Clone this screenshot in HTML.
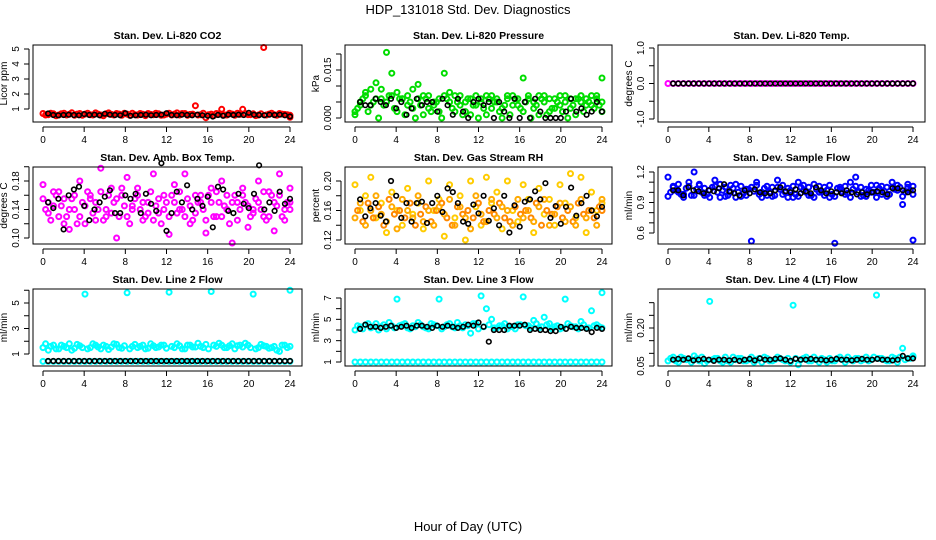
<!DOCTYPE html>
<html><head><meta charset="utf-8"><style>
html,body{margin:0;padding:0;background:#fff;}
svg{display:block;font-family:"Liberation Sans",Arial,sans-serif;}
</style></head><body>
<svg id="chart" width="936" height="540" viewBox="0 0 936 540" xmlns="http://www.w3.org/2000/svg">
<rect x="0" y="0" width="936" height="540" fill="#fff"/>
<text x="468" y="14" font-size="13" text-anchor="middle">HDP_131018  Std. Dev. Diagnostics</text>
<text x="468" y="531" font-size="13" text-anchor="middle">Hour of Day (UTC)</text>
</svg>
<script>
const hourTicks = [0,4,8,12,16,20,24];

const co2A = [0.7,0.62,0.68,0.6,0.72,0.65,0.58,0.7,0.66,0.62,0.74,0.6,0.68,0.64,0.7,0.58,0.66,0.72,0.6,0.65,0.7,0.62,0.68,0.6,0.72,0.66,0.6,0.7,0.64,1.22,0.62,0.42,0.66,0.7,0.98,0.6,0.66,0.72,0.98,0.62,0.68,0.6,5.1,0.66,0.62,0.7,0.64,0.45];
const co2B = [0.6,0.72,0.55,0.68,0.6,0.75,0.66,0.58,0.72,0.6,0.66,0.55,0.74,0.6,0.66,0.72,0.58,0.62,0.7,0.56,0.64,0.72,0.58,0.66,0.6,0.74,0.7,0.58,0.66,0.6,0.72,0.62,0.56,0.66,0.6,0.72,0.58,0.64,0.7,0.62,0.56,0.68,0.6,0.72,0.58,0.66,0.62,0.58];
const co2K = [0.7,0.6,0.58,0.6,0.62,0.6,0.58,0.66,0.6,0.62,0.58,0.68,0.62,0.6,0.58,0.72,0.55,0.58,0.6,0.62,0.58,0.6,0.62,0.72,0.6,0.58,0.62,0.6,0.58,0.62,0.58,0.55,0.5,0.6,0.55,0.62,0.6,0.62,0.6,0.75,0.62,0.6,0.58,0.62,0.6,0.62,0.58,0.5];

const presA = [0.001,0.004,0.007,0.009,0.011,0.006,0.0205,0.014,0.008,0.006,0.004,0.009,0.0105,0.007,0.003,0.005,0.006,0.014,0.008,0.002,0.007,0.005,0.001,0.004,0.006,0.007,0.003,0.005,0.0,0.006,0.007,0.004,0.0125,0.006,0.003,0.007,0.005,0.002,0.006,0.004,0.007,0.003,0.006,0.005,0.004,0.007,0.006,0.0125];
const presB = [0.003,0.006,0.002,0.005,0.0,0.004,0.007,0.003,0.006,0.001,0.005,0.0,0.004,0.006,0.002,0.005,0.0,0.006,0.003,0.005,0.001,0.006,0.004,0.0,0.003,0.006,0.005,0.002,0.004,0.001,0.006,0.003,0.005,0.0,0.004,0.006,0.001,0.003,0.005,0.002,0.0,0.004,0.006,0.002,0.005,0.003,0.004,0.002];
const presC = [0.002,0.005,0.008,0.004,0.006,0.009,0.005,0.007,0.002,0.006,0.007,0.003,0.006,0.001,0.007,0.004,0.002,0.007,0.005,0.007,0.004,0.002,0.006,0.007,0.005,0.001,0.007,0.006,0.003,0.007,0.004,0.006,0.002,0.007,0.005,0.001,0.007,0.006,0.003,0.007,0.005,0.006,0.001,0.007,0.006,0.004,0.007,0.005];
const presK = [0.005,0.004,0.004,0.006,0.005,0.004,0.006,0.003,0.005,0.001,0.003,0.006,0.004,0.005,0.005,0.002,0.006,0.004,0.001,0.006,0.002,0.0,0.005,0.006,0.004,0.005,0.0,0.005,0.002,0.0,0.006,0.0,0.005,0.0,0.006,0.002,0.0,0.0,0.0,0.0,0.002,0.006,0.002,0.003,0.001,0.002,0.005,0.002];

const tempA = [0,0,0,0,0,0,0,0,0,0,0,0,0,0,0,0,0,0,0,0,0,0,0,0,0,0,0,0,0,0,0,0,0,0,0,0,0,0,0,0,0,0,0,0,0,0,0,0];
const tempK = [0,0,0,0,0,0,0,0,0,0,0,0,0,0,0,0,0,0,0,0,0,0,0,0,0,0,0,0,0,0,0,0,0,0,0,0,0,0,0,0,0,0,0,0,0,0,0,0];

const ambA = [0.175,0.15,0.165,0.13,0.155,0.112,0.14,0.18,0.12,0.16,0.15,0.198,0.13,0.17,0.1,0.16,0.185,0.14,0.17,0.125,0.15,0.19,0.135,0.16,0.105,0.175,0.14,0.19,0.12,0.16,0.15,0.107,0.17,0.13,0.18,0.16,0.093,0.15,0.17,0.115,0.14,0.18,0.13,0.165,0.11,0.19,0.14,0.17];
const ambB = [0.14,0.125,0.16,0.145,0.13,0.155,0.12,0.15,0.165,0.135,0.14,0.125,0.16,0.15,0.13,0.145,0.12,0.155,0.14,0.13,0.165,0.145,0.12,0.15,0.16,0.135,0.14,0.155,0.125,0.15,0.14,0.16,0.13,0.15,0.145,0.12,0.16,0.14,0.15,0.13,0.155,0.14,0.125,0.16,0.145,0.13,0.15,0.14];
const ambC = [0.155,0.135,0.145,0.165,0.12,0.14,0.16,0.13,0.145,0.155,0.125,0.165,0.14,0.135,0.155,0.17,0.13,0.145,0.16,0.15,0.135,0.125,0.155,0.14,0.13,0.15,0.165,0.13,0.145,0.135,0.16,0.125,0.15,0.165,0.13,0.14,0.15,0.125,0.16,0.145,0.135,0.15,0.165,0.13,0.15,0.16,0.125,0.15];
const ambK = [0.15,0.142,0.155,0.112,0.16,0.168,0.172,0.145,0.125,0.14,0.15,0.158,0.167,0.135,0.135,0.16,0.155,0.162,0.135,0.162,0.148,0.138,0.205,0.11,0.135,0.165,0.15,0.174,0.14,0.155,0.145,0.158,0.115,0.172,0.168,0.138,0.135,0.162,0.148,0.142,0.162,0.202,0.14,0.15,0.138,0.165,0.148,0.155];

const rhA = [0.195,0.16,0.18,0.205,0.15,0.17,0.13,0.185,0.16,0.14,0.19,0.155,0.17,0.135,0.2,0.16,0.175,0.125,0.195,0.15,0.18,0.12,0.2,0.165,0.14,0.205,0.17,0.185,0.135,0.2,0.16,0.145,0.195,0.175,0.13,0.19,0.155,0.175,0.14,0.195,0.17,0.21,0.15,0.205,0.13,0.185,0.16,0.17];
const rhB = [0.16,0.145,0.17,0.15,0.165,0.14,0.175,0.155,0.16,0.15,0.17,0.14,0.155,0.165,0.145,0.16,0.17,0.15,0.14,0.165,0.155,0.16,0.15,0.17,0.145,0.16,0.155,0.17,0.15,0.145,0.165,0.155,0.16,0.15,0.17,0.14,0.16,0.155,0.165,0.15,0.16,0.145,0.17,0.155,0.16,0.15,0.165,0.16];
const rhC = [0.15,0.17,0.14,0.16,0.18,0.155,0.145,0.165,0.135,0.175,0.16,0.15,0.18,0.145,0.16,0.14,0.165,0.155,0.175,0.14,0.165,0.15,0.135,0.18,0.155,0.145,0.175,0.15,0.165,0.16,0.14,0.175,0.15,0.16,0.145,0.165,0.175,0.14,0.155,0.17,0.145,0.165,0.14,0.175,0.15,0.16,0.14,0.175];
const rhK = [0.175,0.152,0.163,0.17,0.153,0.145,0.2,0.18,0.15,0.17,0.145,0.17,0.172,0.143,0.17,0.18,0.158,0.19,0.185,0.17,0.145,0.142,0.168,0.156,0.18,0.146,0.163,0.14,0.18,0.13,0.167,0.138,0.172,0.175,0.186,0.175,0.197,0.15,0.166,0.142,0.165,0.191,0.153,0.17,0.18,0.16,0.152,0.165];

const flowA = [1.15,1.05,1.0,0.98,1.1,1.2,1.08,0.97,1.02,1.12,0.95,1.05,1.0,1.08,0.96,1.03,0.52,1.1,1.0,0.97,1.05,1.12,0.98,1.04,0.95,1.1,1.02,0.97,1.08,1.0,1.05,0.95,0.5,1.03,0.98,1.1,1.15,0.96,1.03,1.0,1.07,0.98,1.05,1.1,1.02,0.88,1.08,0.53];
const flowB = [1.0,1.02,0.98,1.04,0.97,1.03,1.0,0.98,1.05,1.0,1.02,0.97,1.04,1.0,0.99,1.03,1.01,0.98,1.04,1.0,0.97,1.03,1.0,1.02,0.98,1.05,1.0,0.97,1.03,1.0,1.02,0.98,1.04,1.0,0.99,1.03,1.0,0.97,1.02,1.0,1.04,1.01,0.98,1.03,1.05,1.0,1.02,0.98];
const flowC = [0.96,1.06,1.08,0.95,1.06,0.97,1.07,1.04,0.95,1.06,1.08,0.96,1.07,0.95,1.06,0.97,1.05,1.07,0.95,1.06,0.96,1.05,1.07,0.95,1.06,0.96,1.07,1.05,0.95,1.06,0.97,1.07,0.96,1.05,1.06,0.95,1.06,1.05,0.96,1.07,0.95,1.06,0.96,1.05,1.07,0.96,1.05,1.06];
const flowK = [1.02,1.02,0.97,1.05,1.02,1.01,0.99,1.02,1.01,1.04,1.08,1.01,0.99,0.97,1.02,0.99,1.03,1.0,0.99,0.99,1.02,1.05,1.01,1.0,1.03,0.99,1.01,0.99,1.05,1.02,0.99,1.01,1.0,0.99,1.02,1.0,0.98,1.0,0.98,1.0,1.01,1.0,0.98,1.04,1.04,1.02,1.0,1.02];

const l2A = [1.5,1.3,1.7,1.4,1.6,1.8,1.45,1.65,5.7,1.5,1.7,1.4,1.6,1.55,1.75,1.45,5.8,1.6,1.5,1.7,1.45,1.65,1.55,1.7,5.85,1.5,1.65,1.4,1.7,1.55,1.6,1.75,5.9,1.6,1.7,1.5,1.8,1.65,1.55,1.7,5.7,1.5,1.65,1.45,1.6,1.2,1.7,6.0];
const l2B = [1.8,1.6,1.4,1.7,1.5,1.3,1.75,1.5,1.4,1.8,1.55,1.7,1.35,1.8,1.5,1.65,1.4,1.75,1.6,1.4,1.8,1.5,1.7,1.45,1.6,1.8,1.4,1.7,1.55,1.85,1.5,1.4,1.7,1.85,1.5,1.65,1.4,1.7,1.85,1.5,1.4,1.75,1.6,1.5,1.3,1.7,1.5,1.6];
const l2C = [0.42,0.42,0.42,0.42,0.42,0.42,0.42,0.42,0.42,0.42,0.42,0.42,0.42,0.42,0.42,0.42,0.42,0.42,0.42,0.42,0.42,0.42,0.42,0.42,0.42,0.42,0.42,0.42,0.42,0.42,0.42,0.42,0.42,0.42,0.42,0.42,0.42,0.42,0.42,0.42,0.42,0.42,0.42,0.42,0.42,0.42,0.42,0.42];
const l2K = [0.45,0.45,0.45,0.45,0.45,0.45,0.45,0.45,0.45,0.45,0.45,0.45,0.45,0.45,0.45,0.45,0.45,0.45,0.45,0.45,0.45,0.45,0.45,0.45,0.45,0.45,0.45,0.45,0.45,0.45,0.45,0.45,0.45,0.45,0.45,0.45,0.45,0.45,0.45,0.45,0.45,0.45,0.45,0.45,0.45,0.45,0.45,0.45];

const l3A = [4.0,4.3,4.5,4.2,4.6,4.3,4.1,4.4,6.9,4.5,4.2,4.4,4.7,4.3,4.1,4.5,6.9,4.3,4.6,4.2,4.4,4.5,3.7,4.6,7.2,6.0,5.0,4.2,4.4,4.1,4.3,4.5,7.1,4.4,4.9,4.2,5.2,4.6,4.3,4.1,6.9,4.4,4.3,4.8,4.2,5.8,4.5,7.5];
const l3B = [4.4,4.1,4.6,4.3,4.0,4.5,4.7,4.2,4.4,4.6,4.1,4.3,4.5,4.2,4.6,4.4,4.1,4.5,4.3,4.7,4.2,4.4,4.6,4.1,4.3,4.5,4.2,4.4,4.6,4.3,4.1,4.5,4.4,4.2,4.6,4.3,4.5,4.1,4.4,4.2,4.6,4.3,4.1,4.5,4.2,4.4,4.3,4.2];
const l3C = [1.0,1.0,1.0,1.0,1.0,1.0,1.0,1.0,1.0,1.0,1.0,1.0,1.0,1.0,1.0,1.0,1.0,1.0,1.0,1.0,1.0,1.0,1.0,1.0,1.0,1.0,1.0,1.0,1.0,1.0,1.0,1.0,1.0,1.0,1.0,1.0,1.0,1.0,1.0,1.0,1.0,1.0,1.0,1.0,1.0,1.0,1.0,1.0];
const l3K = [4.1,4.5,4.3,4.3,4.2,4.3,4.4,4.2,4.3,4.4,4.2,4.4,4.4,4.3,4.2,4.4,4.3,4.4,4.3,4.2,4.3,4.5,4.4,4.7,4.3,2.9,4.0,4.0,4.0,4.4,4.4,4.4,4.5,4.0,4.1,4.0,4.0,3.9,3.9,4.3,4.1,4.3,4.2,4.2,4.1,3.8,4.2,4.1];

const l4A = [0.07,0.085,0.065,0.08,0.075,0.09,0.07,0.06,0.305,0.08,0.07,0.085,0.065,0.075,0.08,0.07,0.085,0.075,0.065,0.08,0.07,0.085,0.075,0.08,0.29,0.055,0.08,0.07,0.085,0.065,0.075,0.08,0.07,0.085,0.065,0.075,0.08,0.07,0.085,0.075,0.33,0.08,0.07,0.085,0.065,0.12,0.08,0.085];
const l4B = [0.08,0.07,0.085,0.075,0.065,0.08,0.085,0.07,0.075,0.08,0.065,0.07,0.085,0.08,0.07,0.075,0.065,0.08,0.085,0.07,0.075,0.08,0.07,0.065,0.08,0.075,0.085,0.07,0.075,0.08,0.065,0.07,0.08,0.075,0.085,0.07,0.08,0.075,0.07,0.085,0.08,0.075,0.07,0.08,0.085,0.075,0.08,0.09];
const l4K = [0.075,0.078,0.075,0.08,0.072,0.075,0.078,0.075,0.07,0.075,0.075,0.072,0.075,0.07,0.075,0.078,0.072,0.08,0.075,0.075,0.078,0.08,0.075,0.07,0.078,0.075,0.075,0.078,0.075,0.075,0.072,0.075,0.078,0.075,0.075,0.072,0.075,0.078,0.075,0.075,0.078,0.075,0.075,0.072,0.075,0.09,0.08,0.08];

const panels = [
 {id:'co2',title:'Stan. Dev. Li-820 CO2',ylab:'Licor ppm',L:33,R:302,T:45,B:122,x0:43,x24:290,vA:1,pA:109,vB:5,pB:49,ticks:[1,2,3,4,5],labels:['1','2','3','4','5'],series:[[co2A,'#ff0000'],[co2B,'#ff0000'],[co2K,'#000']]},
 {id:'pressure',title:'Stan. Dev. Li-820 Pressure',ylab:'kPa',L:345,R:612,T:45,B:122,x0:355,x24:602,vA:0,pA:118,vB:0.015,pB:70,ticks:[0,0.005,0.01,0.015,0.02],labels:['0.000','','','0.015',''],series:[[presA,'#00dd00'],[presB,'#00dd00'],[presC,'#00dd00'],[presK,'#000']]},
 {id:'temp',title:'Stan. Dev. Li-820 Temp.',ylab:'degrees C',L:658,R:925,T:45,B:122,x0:668,x24:913,vA:-1,pA:119,vB:1,pB:48,ticks:[-1,-0.5,0,0.5,1],labels:['-1.0','','0.0','','1.0'],series:[[tempA,'#ff00ff'],[tempK,'#000']]},
 {id:'ambient',title:'Stan. Dev. Amb. Box Temp.',ylab:'degrees C',L:33,R:302,T:167,B:244,x0:43,x24:290,vA:0.10,pA:238,vB:0.18,pB:181,ticks:[0.10,0.12,0.14,0.16,0.18,0.20],labels:['0.10','','0.14','','0.18',''],series:[[ambA,'#ff00ff'],[ambB,'#ff00ff'],[ambC,'#ff00ff'],[ambK,'#000']]},
 {id:'rh',title:'Stan. Dev. Gas Stream RH',ylab:'percent',L:345,R:612,T:167,B:244,x0:355,x24:602,vA:0.12,pA:240,vB:0.20,pB:181,ticks:[0.12,0.14,0.16,0.18,0.20],labels:['0.12','','0.16','','0.20'],series:[[rhA,'#ffcc00'],[rhB,'#ff8800'],[rhC,'#ffaa00'],[rhK,'#000']]},
 {id:'sample-flow',title:'Stan. Dev. Sample Flow',ylab:'ml/min',L:658,R:925,T:167,B:244,x0:668,x24:913,vA:0.6,pA:233,vB:1.2,pB:172,ticks:[0.6,0.7,0.8,0.9,1.0,1.1,1.2],labels:['0.6','','','0.9','','','1.2'],series:[[flowA,'#0000ff'],[flowB,'#0000ff'],[flowC,'#0000ff'],[flowK,'#000']]},
 {id:'line2',title:'Stan. Dev. Line 2 Flow',ylab:'ml/min',L:33,R:302,T:289,B:366,x0:43,x24:290,vA:1,pA:354,vB:5,pB:303,ticks:[1,2,3,4,5,6],labels:['1','','3','','5',''],series:[[l2A,'#00ffff'],[l2B,'#00ffff'],[l2C,'#00ffff'],[l2K,'#000']]},
 {id:'line3',title:'Stan. Dev. Line 3 Flow',ylab:'ml/min',L:345,R:612,T:289,B:366,x0:355,x24:602,vA:1,pA:362,vB:7,pB:298,ticks:[1,2,3,4,5,6,7],labels:['1','','3','','5','','7'],series:[[l3A,'#00ffff'],[l3B,'#00ffff'],[l3C,'#00ffff'],[l3K,'#000']]},
 {id:'line4',title:'Stan. Dev. Line 4 (LT) Flow',ylab:'ml/min',L:658,R:925,T:289,B:366,x0:668,x24:913,vA:0.05,pA:366,vB:0.20,pB:328,ticks:[0.05,0.10,0.15,0.20,0.25,0.30],labels:['0.05','','','0.20','',''],series:[[l4A,'#00ffff'],[l4B,'#00ffff'],[l4K,'#000']]}
];

const svg = document.getElementById('chart');
const NS = 'http://www.w3.org/2000/svg';
function mk(tag, attrs, parent){
  const e = document.createElementNS(NS, tag);
  for (const k in attrs) e.setAttribute(k, attrs[k]);
  parent.appendChild(e);
  return e;
}
panels.forEach(p => {
  const xs = h => p.x0 + (h/24)*(p.x24 - p.x0);
  const ys = v => p.pA + (v - p.vA)*(p.pB - p.pA)/(p.vB - p.vA);
  const g = mk('g', {}, svg);
  
  
  const t = mk('text', {x:(p.L+p.R)/2, y:p.T-6, 'font-size':10.5, 'font-weight':'bold', 'text-anchor':'middle'}, g);
  t.textContent = p.title;
  
  
  const pts = mk('g', {fill:'none'}, g);
  
  
  p.series.forEach(([vals, col], si) => {
    const isK = col === '#000';
    const off = isK ? 0 : (si % 2) * 0.25;
    vals.forEach((v, i) => {
      const h = isK ? 0.5 + i*23.5/(vals.length-1) : Math.min(24, off + i*24/(vals.length-1));
      const c = mk('circle', {cx:xs(h).toFixed(1), cy:ys(v).toFixed(1), r:isK?2.3:2.5, stroke:col, 'stroke-width':isK?1.6:2}, pts);
      
      
    });
  });
  const box = mk('rect', {x:p.L, y:p.T, width:p.R-p.L, height:p.B-p.T, fill:'none', stroke:'#000', 'stroke-width':1}, g);
  
  
  const ax = mk('g', {stroke:'#000','stroke-width':1}, g);
  
  
  mk('line', {x1:xs(0), x2:xs(24), y1:p.B+5, y2:p.B+5}, ax);
  hourTicks.forEach(h => {
    mk('line', {x1:xs(h), x2:xs(h), y1:p.B+5, y2:p.B+10}, ax);
    const tl = mk('text', {x:xs(h), y:p.B+21, 'font-size':10, 'text-anchor':'middle', stroke:'none', fill:'#000'}, ax);
    tl.textContent = h;
    
    
  });
  const ay = mk('g', {stroke:'#000','stroke-width':1}, g);
  
  
  const yAx = p.L - 4;
  mk('line', {x1:yAx, x2:yAx, y1:ys(p.ticks[0]), y2:ys(p.ticks[p.ticks.length-1])}, ay);
  p.ticks.forEach((v, i) => {
    const y = ys(v);
    mk('line', {x1:yAx-5, x2:yAx, y1:y, y2:y}, ay);
    if (p.labels[i]) {
      const tl = mk('text', {x:0, y:0, 'font-size':10, 'text-anchor':'middle', stroke:'none', fill:'#000', transform:`translate(${yAx-10},${y}) rotate(-90)`}, ay);
      tl.textContent = p.labels[i];
      
      
    }
  });
  const yl = mk('text', {x:0, y:0, 'font-size':10, 'text-anchor':'middle', transform:`translate(${p.L-26},${(p.T+p.B)/2}) rotate(-90)`}, g);
  yl.textContent = p.ylab;
  
  
});
</script>
</body></html>
